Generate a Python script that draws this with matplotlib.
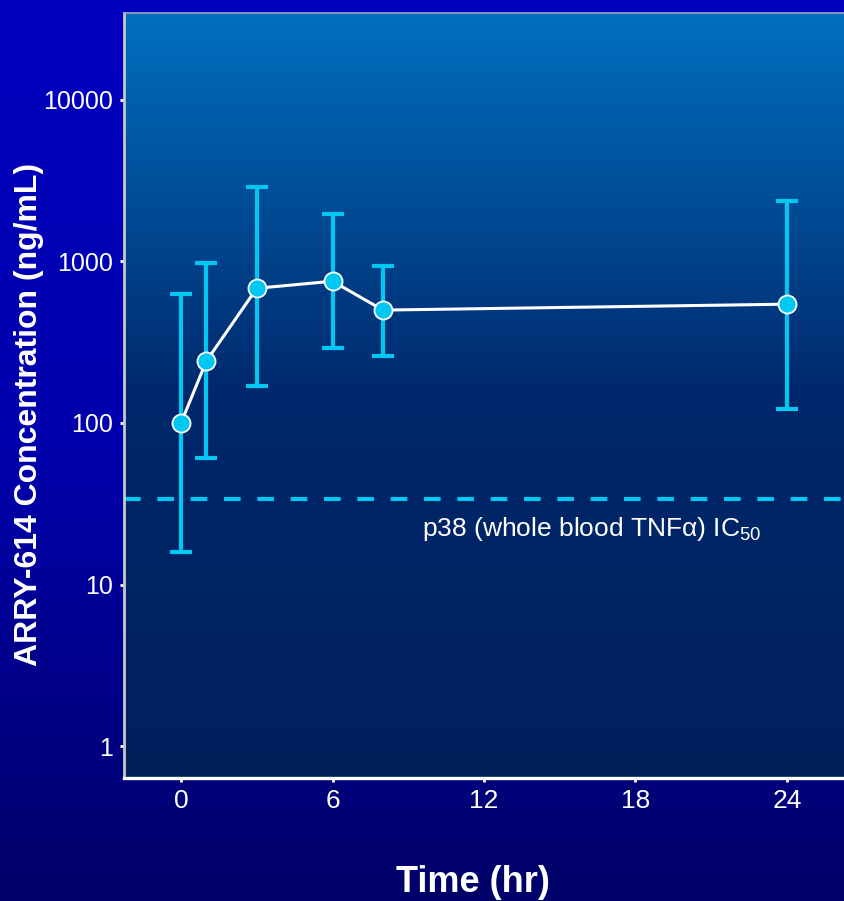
import numpy as np
import matplotlib
matplotlib.use("Agg")
import matplotlib.pyplot as plt
from matplotlib.colors import LinearSegmentedColormap

# PK data (ng/mL)
time_hr = [0, 1, 3, 6, 8, 24]
conc = [100, 241, 681, 753, 499, 543]
conc_hi = [626, 972, 2864, 1950, 931, 2345]
conc_lo = [16, 61, 169, 290, 259, 122]
ic50 = 34
x_ticks = [0, 6, 12, 18, 24]
y_ticks = [1, 10, 100, 1000, 10000]
y_ticklabels = ["1", "10", "100", "1000", "10000"]

plt.rcParams['font.family'] = ['Liberation Sans', 'DejaVu Sans']
plt.rcParams['mathtext.fontset'] = 'custom'
plt.rcParams['mathtext.rm'] = 'Liberation Sans'

cyan = "#00C8F2"

fig = plt.figure(figsize=(8.44, 9.01), dpi=100)

# slide background
bg = fig.add_axes([0, 0, 1, 1], zorder=-10)
bg_cmap = LinearSegmentedColormap.from_list(
    "bg", [(0.0, "#0000C0"), (0.5, "#0000AC"), (0.85, "#00007E"), (1.0, "#000068")])
bg.imshow(np.linspace(0, 1, 256).reshape(-1, 1), cmap=bg_cmap, aspect='auto',
          extent=[0, 1, 0, 1])
bg.axis('off')

ax = fig.add_axes([124 / 844, 1 - 778 / 901, 1 - 124 / 844, (778 - 13) / 901])
ax.set_facecolor("none")

# plot area gradient: lighter blue at the top fading to navy
plot_cmap = LinearSegmentedColormap.from_list(
    "plot", [(0.0, "#0070C0"), (0.5, "#00286C"), (1.0, "#00205C")])
ax.imshow(np.linspace(0, 1, 256).reshape(-1, 1), cmap=plot_cmap, aspect='auto',
          extent=[0, 1, 0, 1], transform=ax.transAxes, zorder=0)

yerr = [np.array(conc) - np.array(conc_lo), np.array(conc_hi) - np.array(conc)]
ax.errorbar(time_hr, conc, yerr=yerr, fmt='none', ecolor=cyan, elinewidth=3,
            capsize=8, capthick=3, zorder=2)
ax.plot(time_hr, conc, color="white", lw=2.2, marker='o', markersize=13,
        markerfacecolor=cyan, markeredgecolor="white", markeredgewidth=1.3,
        zorder=3)
ax.axhline(ic50, color=cyan, lw=3, dashes=(4, 4), zorder=1)
ax.text(9.55, 20, "p38 (whole blood TNFα) IC$_{\\rm 50}$", color="white",
        fontsize=19, ha='left', va='baseline', zorder=4)

ax.set_yscale('log')
ax.set_xlim(-2.26, 26.26)
ax.set_ylim(0.635, 34400)
ax.set_xticks(x_ticks)
ax.set_yticks(y_ticks)
ax.set_yticklabels(y_ticklabels)
ax.yaxis.set_minor_locator(matplotlib.ticker.NullLocator())
ax.tick_params(axis='y', colors="white", labelsize=18, length=3, width=2, pad=5)
ax.tick_params(axis='x', colors="white", labelsize=19, length=3, width=2, pad=5)

ax.spines['right'].set_visible(False)
ax.spines['left'].set_color("#C8C8C8")
ax.spines['left'].set_linewidth(2)
ax.spines['top'].set_color("#9AA8C0")
ax.spines['top'].set_linewidth(1.2)
ax.spines['bottom'].set_color("white")
ax.spines['bottom'].set_linewidth(2.4)

fig.text(29 / 844, 1 - 414 / 901, "ARRY-614 Concentration (ng/mL)", rotation=90,
         ha='center', va='center', color="white", fontsize=23, fontweight='bold')
fig.text(473 / 844, 1 - 882 / 901, "Time (hr)", ha='center', va='center',
         color="white", fontsize=26, fontweight='bold')

fig.savefig("out.png", dpi=100)
